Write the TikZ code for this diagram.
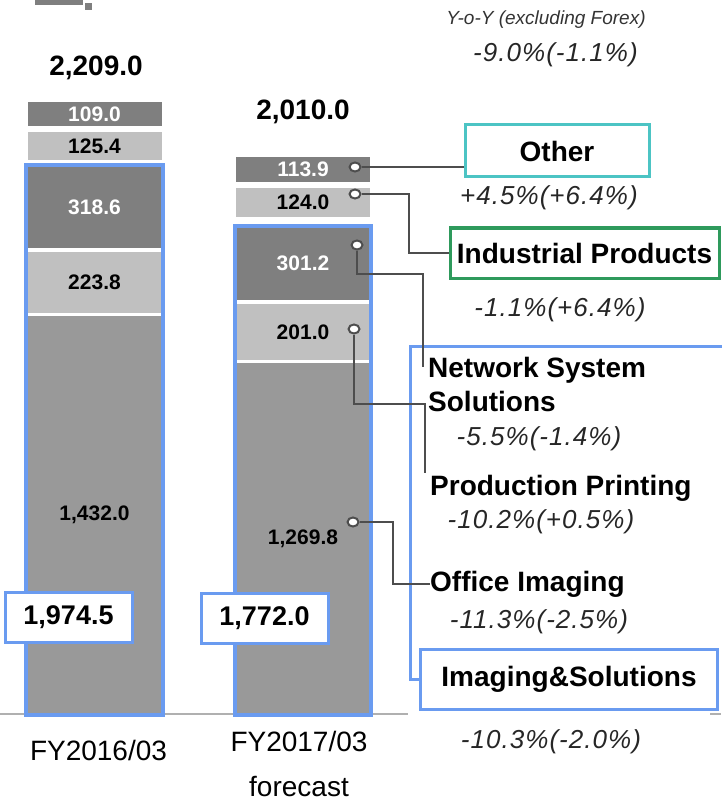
\documentclass[tikz,border=0pt]{standalone}
\usepackage{fontspec}
\setmainfont{Liberation Sans}
\usetikzlibrary{fit, shapes.geometric}
\definecolor{cdark}{HTML}{7F7F7F}
\definecolor{clight}{HTML}{C0C0C0}
\definecolor{cmid}{HTML}{999999}
\definecolor{cblue}{HTML}{6A9BF0}
\definecolor{cteal}{HTML}{4CC4C4}
\definecolor{cgreen}{HTML}{2E9A5C}
\definecolor{cline}{HTML}{4D4D4D}
\definecolor{caxis}{HTML}{B0B0B0}
\tikzset{
  seg/.style={fill=#1, minimum width=134, inner sep=0pt, font=\fontsize{21}{24}\selectfont\bfseries},
  iframe/.style={draw=cblue, line width=4pt, inner sep=1pt},
  total/.style={font=\fontsize{28}{32}\selectfont\bfseries},
  sumbox/.style={draw=cblue, fill=white, line width=3pt, minimum width=127, minimum height=50, font=\fontsize{27}{30}\selectfont\bfseries},
  catbox/.style={draw=#1, fill=white, line width=3pt, font=\fontsize{28}{32}\selectfont\bfseries},
  lab/.style={inner sep=0pt, font=\fontsize{28}{34}\selectfont\bfseries},
  pct/.style={anchor=base, inner sep=0pt, text=black!85, font=\fontsize{26}{30}\selectfont\itshape\addfontfeatures{LetterSpace=4}},
  fy/.style={font=\fontsize{28}{45}\selectfont, align=center},
  bead/.style={ellipse, draw=cline, fill=white, line width=2pt, minimum width=11, minimum height=9, inner sep=0pt},
  link/.style={draw=cline, line width=2pt},
}

\begin{document}
\begin{tikzpicture}[x=1pt, y=-1pt]
  \useasboundingbox (0,0) rectangle (721,802);
  % cut-off title mark
  \fill[cdark] (35,0) rectangle (83,5);
  \fill[cdark] (85,3) rectangle (92,10);
  % axis
  \draw[caxis, line width=1.5pt] (0,714) -- (408,714);
  \draw[caxis, line width=1.5pt] (710,714) -- (721,714);

  % bars
  \foreach \n/\y/\h/\c/\t/\v in {b1o/114/24/cdark/white/109.0, b1i/146/28/clight/black/125.4,
      b1n/207/82/cdark/white/318.6, b1p/282.5/61/clight/black/223.8, b1f/515/398/cmid/black/{1,432.0}}
    \node[seg=\c, text=\t, minimum height=\h] (\n) at (94.5,\y) {\v};
  \foreach \n/\y/\h/\c/\t/\v in {b2o/169.5/25/cdark/white/113.9, b2i/202.5/29/clight/black/124.0,
      b2n/263.5/73/cdark/white/301.2, b2p/332/56/clight/black/201.0, b2f/538.5/351/cmid/black/{1,269.8}}
    \node[seg=\c, text=\t, minimum height=\h] (\n) at (303,\y) {\v};
  \node[iframe, fit=(b1n)(b1f)] (f1) {};
  \node[iframe, fit=(b2n)(b2f)] (f2) {};
  \node[total] (t1) at (96,68) {2,209.0};
  \node[total] (t2) at (303,112) {2,010.0};
  \node[sumbox] (s1) at (68.5,617) {1,974.5};
  \node[sumbox] (s2) at (264.5,618) {1,772.0};
  \node[fy] (fy1) at (98.5,750) {FY2016/03};
  \node[fy] (fy2) at (299,764) {FY2017/03\\forecast};

  % segment boxes and labels
  \node[catbox=cteal, minimum width=184, minimum height=52] (oth) at (557,151) {Other};
  \node[catbox=cgreen, minimum width=269, minimum height=50] (ind) at (584.5,253) {Industrial Products};
  \node[catbox=cblue, minimum width=297, minimum height=60] (isg) at (569,679) {Imaging\&Solutions};
  \node[lab, anchor=north west, align=left] (nss) at (428,357) {Network System\\Solutions};
  \node[lab, anchor=base west] (pp) at (430,495) {Production Printing};
  \node[lab, anchor=base west] (oi) at (430,591) {Office Imaging};
  \coordinate (grp) at (410,346);
  \draw[cblue, line width=3pt] (isg.west) -| (grp) -- ++(320,0);

  \node[pct, font=\fontsize{19}{22}\selectfont\itshape, text=black!80] (hdr) at (546,25) {Y-o-Y (excluding Forex)};
  \node[pct] (p0) at (555.5,62) {-9.0\%(-1.1\%)};
  \node[pct] (p1) at (549,205) {+4.5\%(+6.4\%)};
  \node[pct] (p2) at (560,316) {-1.1\%(+6.4\%)};
  \node[pct] (p3) at (539,445) {-5.5\%(-1.4\%)};
  \node[pct] (p4) at (541,528) {-10.2\%(+0.5\%)};
  \node[pct] (p5) at (539,628) {-11.3\%(-2.5\%)};
  \node[pct] (p6) at (551,748) {-10.3\%(-2.0\%)};

  % leader lines
  \node[bead] (m1) at (355,167) {};
  \node[bead] (m2) at (355,194) {};
  \node[bead] (m3) at (357,245) {};
  \node[bead] (m4) at (354,329) {};
  \node[bead] (m5) at (353,522) {};
  \coordinate (nssend) at (423,367);
  \coordinate (ppend) at (425,473);
  \draw[link] (m1.east) -- (oth.west |- m1);
  \draw[link] (m2.east) -- ++(47,0) |- (ind.west);
  \draw[link] (m3.south) |- ([yshift=93pt]nssend) -- (nssend);
  \draw[link] (m4.south) |- ([yshift=69pt]ppend) -- (ppend);
  \draw[link] (m5.east) -- ++(33,0) |- (oi.west);
\end{tikzpicture}
\end{document}
